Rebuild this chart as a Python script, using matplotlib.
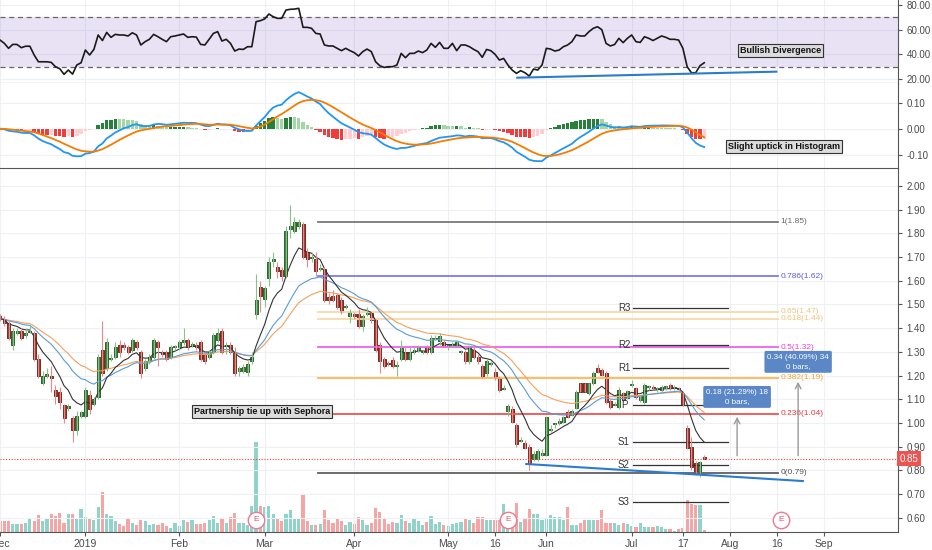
import numpy as np
import pandas as pd
import matplotlib
matplotlib.use("Agg")
import matplotlib.pyplot as plt

plt.rcParams["font.family"] = ["Liberation Sans", "DejaVu Sans"]

# daily bars, weekdays without the two market holidays
DATES = pd.bdate_range("2018-12-03", "2019-09-13", freq="C",
                       holidays=["2018-12-25", "2019-01-01"])

OPEN = [1.45, 1.44, 1.42, 1.33, 1.38, 1.39, 1.37, 1.385, 1.38, 1.27,
        1.17, 1.20, 1.20, 1.14, 1.13, 1.075, 1.065, 1.02, 0.97, 1.03,
        1.03, 1.12, 1.08, 1.11, 1.31, 1.23, 1.27, 1.28, 1.33, 1.33,
        1.32, 1.31, 1.34, 1.30, 1.23, 1.26, 1.28, 1.34, 1.30, 1.30,
        1.28, 1.32, 1.32, 1.34, 1.35, 1.33, 1.33, 1.34, 1.29, 1.28,
        1.30, 1.35, 1.39, 1.325, 1.33, 1.30, 1.22, 1.22, 1.215, 1.26,
        1.46, 1.575, 1.525, 1.61, 1.685, 1.66, 1.645, 1.62, 1.82, 1.81,
        1.83, 1.84, 1.72, 1.695, 1.69, 1.65, 1.65, 1.53, 1.535, 1.54,
        1.52, 1.49, 1.45, 1.46, 1.46, 1.41, 1.46, 1.465, 1.435, 1.33,
        1.27, 1.255, 1.265, 1.24, 1.27, 1.30, 1.27, 1.30, 1.31, 1.30,
        1.32, 1.30, 1.355, 1.345, 1.34, 1.325, 1.33, 1.325, 1.30, 1.30,
        1.26, 1.31, 1.28, 1.24, 1.21, 1.25, 1.215, 1.19, 1.145, 1.05,
        1.06, 0.99, 0.925, 0.914, 0.90, 0.85, 0.85, 0.865, 0.865, 0.97,
        0.995, 0.998, 1.006, 1.048, 1.034, 1.062, 1.167, 1.167, 1.125, 1.167,
        1.231, 1.224, 1.21, 1.093, 1.075, 1.069, 1.125, 1.107, 1.16, 1.146,
        1.097, 1.09, 1.15, 1.148, 1.143, 1.14, 1.15, 1.16, 1.148, 1.147,
        1.125, 0.98, 0.90, 0.83, 0.79, 0.857]
HIGH = [1.46, 1.45, 1.43, 1.40, 1.40, 1.40, 1.40, 1.41, 1.39, 1.29,
        1.22, 1.23, 1.24, 1.16, 1.15, 1.08, 1.08, 1.03, 1.05, 1.05,
        1.15, 1.14, 1.11, 1.29, 1.43, 1.36, 1.29, 1.34, 1.35, 1.34,
        1.33, 1.36, 1.35, 1.31, 1.27, 1.29, 1.36, 1.35, 1.31, 1.31,
        1.33, 1.33, 1.35, 1.40, 1.36, 1.34, 1.34, 1.35, 1.30, 1.31,
        1.38, 1.40, 1.40, 1.34, 1.34, 1.32, 1.24, 1.25, 1.26, 1.30,
        1.63, 1.60, 1.58, 1.70, 1.72, 1.68, 1.66, 1.83, 1.92, 1.87,
        1.86, 1.85, 1.74, 1.72, 1.72, 1.67, 1.66, 1.55, 1.56, 1.55,
        1.53, 1.50, 1.48, 1.47, 1.48, 1.46, 1.49, 1.47, 1.44, 1.34,
        1.28, 1.26, 1.28, 1.26, 1.35, 1.32, 1.32, 1.32, 1.33, 1.31,
        1.33, 1.37, 1.37, 1.38, 1.35, 1.33, 1.34, 1.35, 1.31, 1.31,
        1.33, 1.32, 1.29, 1.25, 1.27, 1.26, 1.23, 1.20, 1.16, 1.08,
        1.07, 1.00, 0.94, 0.93, 0.91, 0.88, 0.89, 0.89, 1.03, 0.99,
        1.00, 1.02, 1.03, 1.06, 1.06, 1.14, 1.17, 1.17, 1.17, 1.22,
        1.25, 1.23, 1.22, 1.10, 1.09, 1.15, 1.13, 1.14, 1.18, 1.15,
        1.12, 1.17, 1.16, 1.16, 1.15, 1.16, 1.16, 1.17, 1.16, 1.15,
        1.13, 0.99, 0.94, 0.84, 0.84, 0.865]
LOW = [1.43, 1.41, 1.35, 1.31, 1.37, 1.35, 1.36, 1.38, 1.26, 1.19,
       1.16, 1.19, 1.13, 1.08, 1.06, 1.00, 1.05, 0.92, 0.95, 1.02,
       1.02, 1.04, 1.07, 1.10, 1.20, 1.22, 1.26, 1.27, 1.28, 1.31,
       1.29, 1.30, 1.31, 1.19, 1.22, 1.25, 1.27, 1.24, 1.28, 1.26,
       1.27, 1.31, 1.31, 1.33, 1.31, 1.32, 1.31, 1.26, 1.25, 1.27,
       1.29, 1.34, 1.29, 1.29, 1.29, 1.20, 1.20, 1.21, 1.20, 1.25,
       1.44, 1.47, 1.49, 1.58, 1.66, 1.61, 1.60, 1.61, 1.78, 1.80,
       1.82, 1.69, 1.66, 1.68, 1.62, 1.64, 1.51, 1.50, 1.51, 1.48,
       1.46, 1.48, 1.42, 1.44, 1.40, 1.39, 1.45, 1.42, 1.30, 1.21,
       1.23, 1.24, 1.23, 1.20, 1.26, 1.26, 1.26, 1.29, 1.30, 1.29,
       1.29, 1.29, 1.35, 1.33, 1.32, 1.31, 1.32, 1.32, 1.29, 1.25,
       1.25, 1.27, 1.25, 1.19, 1.20, 1.24, 1.18, 1.13, 1.14, 1.03,
       1.00, 0.90, 0.92, 0.89, 0.80, 0.84, 0.84, 0.86, 0.86, 0.96,
       0.98, 0.99, 1.00, 1.02, 1.03, 1.06, 1.13, 1.13, 1.12, 1.16,
       1.21, 1.20, 1.08, 1.06, 1.07, 1.06, 1.09, 1.10, 1.15, 1.10,
       1.09, 1.08, 1.14, 1.14, 1.13, 1.13, 1.14, 1.14, 1.14, 1.13,
       1.07, 0.89, 0.80, 0.78, 0.77, 0.85]
CLOSE = [1.44, 1.42, 1.36, 1.39, 1.39, 1.36, 1.38, 1.39, 1.27, 1.20,
         1.20, 1.205, 1.19, 1.115, 1.09, 1.02, 1.07, 0.97, 1.03, 1.045,
         1.14, 1.06, 1.10, 1.28, 1.21, 1.34, 1.275, 1.32, 1.30, 1.32,
         1.30, 1.35, 1.32, 1.21, 1.26, 1.28, 1.35, 1.32, 1.29, 1.27,
         1.32, 1.325, 1.34, 1.35, 1.32, 1.335, 1.32, 1.27, 1.26, 1.30,
         1.37, 1.38, 1.30, 1.33, 1.30, 1.21, 1.23, 1.235, 1.25, 1.28,
         1.52, 1.535, 1.57, 1.68, 1.69, 1.64, 1.62, 1.81, 1.83, 1.85,
         1.85, 1.70, 1.69, 1.70, 1.64, 1.655, 1.52, 1.52, 1.52, 1.49,
         1.47, 1.495, 1.47, 1.45, 1.41, 1.45, 1.465, 1.435, 1.31, 1.26,
         1.24, 1.25, 1.24, 1.245, 1.315, 1.27, 1.30, 1.31, 1.32, 1.305,
         1.30, 1.36, 1.36, 1.367, 1.325, 1.325, 1.33, 1.343, 1.30, 1.26,
         1.325, 1.28, 1.26, 1.20, 1.26, 1.25, 1.19, 1.14, 1.147, 1.07,
         1.006, 0.91, 0.93, 0.895, 0.83, 0.87, 0.88, 0.875, 1.027, 0.975,
         1.00, 1.01, 1.027, 1.027, 1.05, 1.132, 1.132, 1.132, 1.167, 1.21,
         1.217, 1.203, 1.09, 1.069, 1.08, 1.14, 1.097, 1.135, 1.163, 1.111,
         1.118, 1.16, 1.153, 1.146, 1.145, 1.153, 1.15, 1.146, 1.15, 1.145,
         1.076, 0.895, 0.815, 0.79, 0.835, 0.85]
VOLUME = [11, 11, 11, 8.3, 7.7, 7.7, 9, 13.3, 11, 16.7,
          11, 13.3, 18.3, 16, 19, 9.3, 18.3, 17.7, 12.7, 22.7,
          15, 14, 11.7, 25, 40, 18.3, 16, 11, 7.7, 5.7,
          12.7, 9, 6.7, 11.7, 11, 6.7, 8.3, 7.3, 9, 5.7,
          4.3, 9, 5.7, 11.7, 10, 11.7, 7.7, 7.7, 9.3, 12,
          16, 9, 13.3, 9, 15, 19, 9.3, 9.3, 6.7, 26,
          90, 25.7, 25, 26, 18.3, 13.3, 10.7, 18.3, 22.3, 14.3,
          14.3, 36.7, 10.7, 6.7, 6.7, 8, 22, 12, 9, 14,
          11, 7, 10, 8, 15, 12, 7, 9, 24, 20,
          13, 8, 10, 9, 17, 11, 9, 14, 11, 7,
          10, 16, 8, 10, 7, 6, 8, 9, 10, 14,
          12, 9, 15, 15, 11.7, 11.7, 11.7, 11.7, 27.7, 12.3,
          15, 29.3, 10, 12.7, 23.3, 18.3, 17.7, 11.7, 12.7, 16.7,
          15, 15, 11.7, 25, 7.3, 7.3, 9, 12.3, 12.3, 12.3,
          12.3, 21.7, 9.3, 9, 9.3, 6.7, 9, 7.7, 5.7, 5,
          9, 5, 5, 5, 6, 5, 3.3, 3.3, 1.5, 3,
          4, 31.7, 28.3, 26.7, 26.7, 1.7]
RSI = [51.6, 49, 44.9, 48.1, 48, 45.4, 46.6, 46.6, 39.5, 34,
       34, 34, 33.5, 30, 28.4, 23.8, 27.3, 24, 31.4, 33.2,
       43.5, 39.5, 44, 55.7, 51.2, 57.8, 53.8, 56.2, 55.7, 55.7,
       54.9, 57.5, 55.7, 47.6, 50.3, 52.2, 56.2, 54.3, 52.2, 50.3,
       54.3, 54.9, 55.7, 56.5, 53.8, 54.3, 54, 48.1, 47.6, 52.2,
       57, 58.4, 50.8, 52.2, 48.9, 42.7, 44.3, 44, 46.2, 46.2,
       66.5, 67.3, 68.7, 72.7, 70.5, 69.2, 69.2, 75.9, 76.5, 76.7,
       77.3, 61.9, 61.9, 61.1, 57, 56.5, 47.6, 46.8, 46.8, 44.9,
       43, 44.9, 43, 41.4, 38.7, 42.2, 44.3, 42.2, 34, 30.8,
       29.4, 30, 30, 31.4, 40.8, 37.3, 40.8, 40.8, 42.7, 41.4,
       43.5, 48.9, 45.7, 49.7, 44.9, 44.9, 48.9, 43, 47.6, 47.6,
       46.2, 44, 42.2, 37.6, 44, 43, 40, 35.4, 36.7, 31.4,
       27.3, 24.6, 26.8, 25.1, 22.4, 28.1, 27.3, 31.4, 44.9, 44.3,
       42.7, 43.5, 46.2, 47.6, 50.3, 55.7, 54.9, 54.9, 58.4, 61.1,
       62.4, 60, 48.9, 46.8, 48, 53, 49.5, 53, 55.7, 50.3,
       49.7, 54.3, 53, 51.2, 53, 54.9, 53.8, 52.2, 52.2, 51.6,
       44.9, 30, 25.1, 25.1, 30.8, 33.2]

LAST_PRICE = 0.85

FIB_LEVELS = [1, 0.786, 0.65, 0.618, 0.5, 0.382, 0.236, 0]
FIB_PRICES = [1.85, 1.62, 1.47, 1.44, 1.32, 1.19, 1.04, 0.79]
FIB_COLORS = ["#787878", "#7B7BF0", "#F8D9A8", "#F8D9A8", "#F060F0",
              "#FFB74D", "#EF5350", "#606060"]
FIB_TEXT = ["#666666", "#5A5AE6", "#F2C27A", "#F2C27A", "#E040E0",
            "#F5A030", "#E53935", "#555555"]

PIVOT_NAMES = ["R3", "R2", "R1", "P", "S1", "S2", "S3"]
PIVOT_PRICES = [1.487, 1.328, 1.231, 1.077, 0.918, 0.822, 0.665]

EARNINGS = ["2019-02-27", "2019-05-21", "2019-08-19"]

TICK_DATES = ["2018-12-03", "2019-01-02", "2019-02-01", "2019-03-01", "2019-04-01",
              "2019-05-01", "2019-05-16", "2019-06-03", "2019-07-01", "2019-07-17",
              "2019-08-01", "2019-08-16", "2019-09-02"]
TICK_NAMES = ["Dec", "2019", "Feb", "Mar", "Apr", "May", "16", "Jun", "Jul", "17",
              "Aug", "16", "Sep"]

GRID = "#EDF0F5"
AXC = "#555555"
TXT = "#4a4a4a"

o = np.array(OPEN)
h = np.array(HIGH)
l = np.array(LOW)
c = np.array(CLOSE)
x = np.arange(len(c))
pos = {d: k for k, d in enumerate(DATES)}
tick_pos = [pos[pd.Timestamp(d)] for d in TICK_DATES]

close = pd.Series(c)
ema_fast = close.ewm(span=8, adjust=False).mean()
ema_mid = close.ewm(span=20, adjust=False).mean()
ema_slow = close.ewm(span=30, adjust=False).mean()
macd = close.ewm(span=12, adjust=False).mean() - close.ewm(span=26, adjust=False).mean()
signal = macd.ewm(span=9, adjust=False).mean()
hist = (macd - signal).values

fig = plt.figure(figsize=(9.32, 5.5), dpi=100)
W = 898 / 932
ax_rsi = fig.add_axes([0, 1 - 83 / 550, W, 83 / 550])
ax_macd = fig.add_axes([0, 1 - 168 / 550, W, 85 / 550])
ax_p = fig.add_axes([0, 1 - 532 / 550, W, 363 / 550])
ax_v = ax_p.twinx()
ax_v.set_zorder(0)
ax_p.set_zorder(1)
ax_p.patch.set_visible(False)

XL = (0.6, 210.4)
for ax in (ax_rsi, ax_macd, ax_p):
    ax.set_xlim(*XL)
    ax.yaxis.tick_right()
    for s in ("top", "left"):
        ax.spines[s].set_visible(False)
    ax.spines["right"].set_color(AXC)
    ax.spines["bottom"].set_color(AXC)
    ax.set_xticks(tick_pos)
    ax.grid(True, color=GRID, lw=0.8)
    ax.set_axisbelow(True)
    ax.tick_params(axis="y", labelsize=7, colors=TXT, length=3, pad=3)
    ax.tick_params(axis="y", color=AXC)
for ax in (ax_rsi, ax_macd):
    ax.tick_params(axis="x", length=0, labelbottom=False)

box = dict(boxstyle="square,pad=0.22", fc="#DCDCDC", ec="#333333", lw=0.8)

# ---- RSI
ax_rsi.set_ylim(16.8, 84.05)
ax_rsi.set_yticks([20, 40, 60, 80])
ax_rsi.yaxis.set_major_formatter(plt.FormatStrFormatter("%.2f"))
ax_rsi.axhspan(30, 70, color="#7E57C2", alpha=0.17, lw=0)
for lv in (30, 70):
    ax_rsi.axhline(lv, color="#666666", lw=0.9, ls=(0, (4, 3)))
ax_rsi.plot(x, RSI, color="#1a1a1a", lw=1.2)
ax_rsi.plot([121.2, 181.9], [21.1, 26.0], color="#2B7BD0", lw=1.5)
ax_rsi.text(182.9, 43.5, "Bullish Divergence", fontsize=6.5, fontweight="bold",
            ha="center", va="center", color="#111111", bbox=box)

# ---- MACD
ax_macd.set_ylim(-0.150, 0.175)
ax_macd.set_yticks([-0.1, 0, 0.1])
ax_macd.yaxis.set_major_formatter(plt.FormatStrFormatter("%.2f"))
prev = np.concatenate([[hist[0]], hist[:-1]])
hcol = np.where(hist >= 0,
                np.where(hist >= prev, "#26803A", "#A5D6A7"),
                np.where(hist < prev, "#F23C3C", "#FFCDD2"))
ax_macd.bar(x, hist, width=0.8, color=hcol, lw=0)
ax_macd.plot(x, macd, color="#2196F3", lw=1.3)
ax_macd.plot(x, signal, color="#F57C00", lw=1.3)
ax_macd.text(183.8, -0.067, "Slight uptick in Histogram", fontsize=6.5, fontweight="bold",
             ha="center", va="center", color="#111111", bbox=box)

# ---- volume
up = c >= o
ax_v.set_ylim(0, 363)
ax_v.bar(x, VOLUME, width=0.75, color=np.where(up, "#8FD3CB", "#F5A5A3"), lw=0)
ax_v.set_yticks([])
for s in ax_v.spines.values():
    s.set_visible(False)

# ---- price
ax_p.set_ylim(0.540, 2.0717)
ax_p.set_yticks(np.round(np.arange(0.6, 2.01, 0.1), 2))
ax_p.yaxis.set_major_formatter(plt.FormatStrFormatter("%.2f"))
ax_p.set_xticklabels(TICK_NAMES)
ax_p.tick_params(axis="x", labelsize=7.5, colors=TXT, length=3, pad=2)
ax_p.tick_params(axis="x", color=AXC)

ax_p.axhline(LAST_PRICE, color="#F44336", lw=0.8, ls=(0, (1, 1.5)))

for lv, pr, lc, tc in zip(FIB_LEVELS, FIB_PRICES, FIB_COLORS, FIB_TEXT):
    ax_p.plot([74.4, 182.4], [pr, pr], color=lc, lw=1.3)
    ax_p.text(182.8, pr, f"{lv}({pr:.2f})", fontsize=6, color=tc, va="center", ha="left")

for name, pr in zip(PIVOT_NAMES, PIVOT_PRICES):
    ax_p.plot([148.2, 170.6], [pr, pr], color="#333333", lw=0.9)
    ax_p.text(146.2, pr, name, fontsize=7, color="#333333", ha="center", va="center")

ax_p.plot(x, ema_slow, color="#F5A05A", lw=0.8)
ax_p.plot(x, ema_mid, color="#5B9BD5", lw=0.8)
ax_p.plot(x, ema_fast, color="#333333", lw=0.8)

ax_p.vlines(x, l, h, colors=np.where(up, "#86C386", "#E88A8A"), lw=0.8)
body_lo = np.minimum(o, c)
body_h = np.maximum(np.abs(c - o), 0.004)
ax_p.bar(x, body_h, bottom=body_lo, width=0.7,
         color=np.where(up, "#3F8F3F", "#B8372A"),
         edgecolor=np.where(up, "#1E4E1E", "#5E1A12"), lw=0.6)

ax_p.plot([123.3, 188.1], [0.827, 0.755], color="#2B7BD0", lw=1.5)

ax_p.text(61.4, 1.049, "Partnership tie up with Sephora", fontsize=6.5, fontweight="bold",
          ha="center", va="center", color="#111111", bbox=box)

for xm, top, lbl, yb in ((172.7, 1.038, "0.18 (21.29%) 18\n0 bars,", 1.110),
                         (187.0, 1.186, "0.34 (40.09%) 34\n0 bars,", 1.258)):
    ax_p.annotate("", xy=(xm, top), xytext=(xm, LAST_PRICE),
                  arrowprops=dict(arrowstyle="->", color="#9a9a9a", lw=1))
    ax_p.text(xm, yb, lbl, fontsize=5.8, color="white", ha="center", va="center",
              linespacing=1.45,
              bbox=dict(boxstyle="round,pad=0.35,rounding_size=0.2", fc="#5B87C6", ec="none"))

for d in EARNINGS:
    ex = pos[pd.Timestamp(d)]
    ax_p.scatter([ex], [0.591], s=140, facecolor="white", edgecolor="#F07890", lw=1, zorder=5)
    ax_p.text(ex, 0.591, "E", fontsize=6, color="#E05070", ha="center", va="center", zorder=6)

ax_p.text(1.002, LAST_PRICE, "0.85", transform=ax_p.get_yaxis_transform(), fontsize=7,
          color="white", ha="left", va="center", clip_on=False,
          bbox=dict(boxstyle="square,pad=0.3", fc="#EF5350", ec="none"))

fig.savefig("out.png", dpi=100)
